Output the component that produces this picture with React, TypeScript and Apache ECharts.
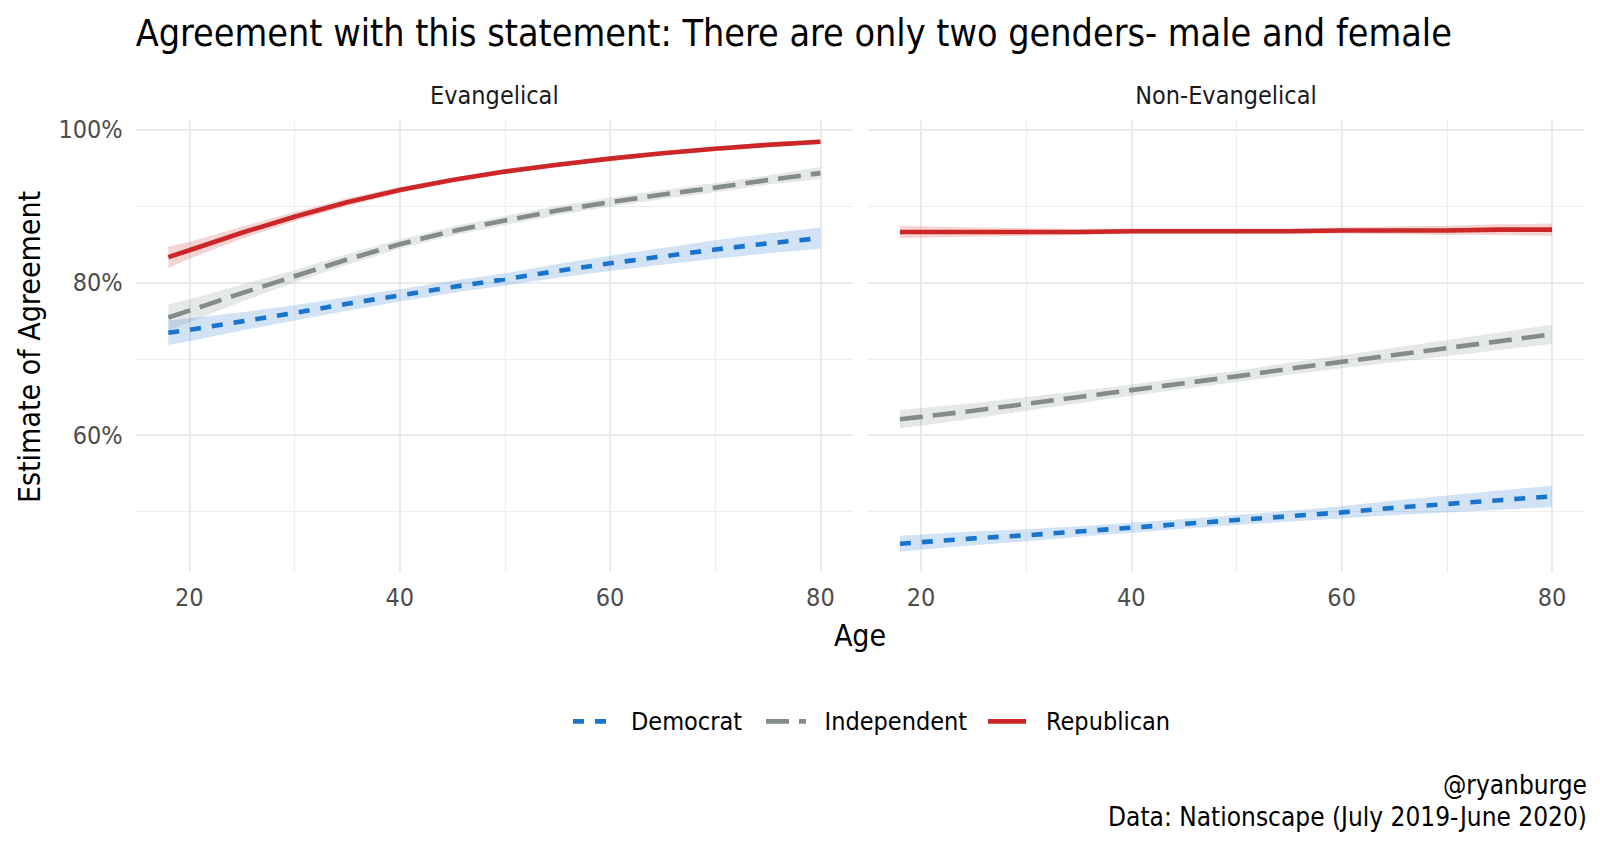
import React, { useEffect, useRef } from "react";
import * as echarts from "echarts";

// ---- data ----
const ages = [18, 20, 25, 30, 35, 40, 45, 50, 55, 60, 65, 70, 75, 80];
const panelNames = ["Evangelical", "Non-Evangelical"];
const partyNames = ["Democrat", "Independent", "Republican"];

// Evangelical
const evDemFit = [73.4, 73.8, 74.9, 76.0, 77.2, 78.3, 79.4, 80.4, 81.5, 82.5, 83.4, 84.3, 85.1, 85.8];
const evDemLo = [71.8, 72.3, 73.7, 75.0, 76.3, 77.5, 78.6, 79.6, 80.6, 81.5, 82.3, 83.1, 83.8, 84.4];
const evDemHi = [75.0, 75.3, 76.1, 77.0, 78.1, 79.1, 80.2, 81.2, 82.4, 83.5, 84.5, 85.5, 86.4, 87.2];

const evIndFit = [75.4, 76.3, 78.6, 80.8, 83.0, 85.0, 86.7, 88.1, 89.4, 90.5, 91.5, 92.4, 93.4, 94.3];
const evIndLo = [73.7, 74.8, 77.5, 80.0, 82.3, 84.4, 86.1, 87.5, 88.8, 89.9, 90.9, 91.8, 92.8, 93.5];
const evIndHi = [77.1, 77.8, 79.7, 81.6, 83.7, 85.6, 87.3, 88.7, 90.0, 91.1, 92.1, 93.0, 94.0, 95.1];

const evRepFit = [83.3, 84.2, 86.5, 88.6, 90.5, 92.1, 93.4, 94.5, 95.4, 96.2, 96.9, 97.5, 98.0, 98.4];
const evRepLo = [81.9, 83.1, 85.7, 88.0, 90.0, 91.7, 93.1, 94.2, 95.1, 95.9, 96.6, 97.2, 97.7, 98.1];
const evRepHi = [84.7, 85.3, 87.3, 89.2, 91.0, 92.5, 93.7, 94.8, 95.7, 96.5, 97.2, 97.8, 98.3, 98.7];

// Non-Evangelical
const neDemFit = [45.8, 46.0, 46.5, 46.9, 47.4, 47.9, 48.4, 48.9, 49.4, 49.9, 50.5, 51.0, 51.5, 52.0];
const neDemLo = [44.75, 45.0, 45.6, 46.1, 46.7, 47.25, 47.75, 48.25, 48.7, 49.1, 49.55, 49.9, 50.25, 50.6];
const neDemHi = [46.85, 47.0, 47.4, 47.7, 48.1, 48.55, 49.05, 49.55, 50.1, 50.7, 51.45, 52.1, 52.75, 53.4];

const neIndFit = [62.1, 62.4, 63.2, 64.1, 65.0, 65.9, 66.8, 67.7, 68.7, 69.6, 70.5, 71.4, 72.3, 73.2];
const neIndLo = [60.9, 61.25, 62.2, 63.2, 64.2, 65.15, 66.05, 66.95, 67.9, 68.75, 69.55, 70.35, 71.15, 71.95];
const neIndHi = [63.3, 63.55, 64.2, 65.0, 65.8, 66.65, 67.55, 68.45, 69.5, 70.45, 71.45, 72.45, 73.45, 74.45];

const neRepFit = [86.6, 86.6, 86.6, 86.6, 86.6, 86.7, 86.7, 86.7, 86.7, 86.8, 86.8, 86.8, 86.9, 86.9];
const neRepLo = [85.8, 85.85, 86.0, 86.1, 86.2, 86.35, 86.35, 86.35, 86.35, 86.4, 86.3, 86.2, 86.2, 86.1];
const neRepHi = [87.4, 87.35, 87.2, 87.1, 87.0, 87.05, 87.05, 87.05, 87.05, 87.2, 87.3, 87.4, 87.6, 87.7];

const xMin = 14.9;
const xMax = 83.1;
const yMin = 42.1;
const yMax = 101.2;

const FONT = "'DejaVu Sans Condensed', 'Liberation Sans Narrow', 'Roboto', sans-serif";

const partyColors = ["#1874CD", "#838B8B", "#CD2626"];
const ribbonColors = ["rgba(24,116,205,0.2)", "rgba(131,139,139,0.2)", "rgba(205,38,38,0.2)"];
const dashes: any[] = [[11, 11], [23, 10], "solid"];

type Group = { fit: number[]; lo: number[]; hi: number[] };
const panelsData: Group[][] = [
  [
    { fit: evDemFit, lo: evDemLo, hi: evDemHi },
    { fit: evIndFit, lo: evIndLo, hi: evIndHi },
    { fit: evRepFit, lo: evRepLo, hi: evRepHi },
  ],
  [
    { fit: neDemFit, lo: neDemLo, hi: neDemHi },
    { fit: neIndFit, lo: neIndLo, hi: neIndHi },
    { fit: neRepFit, lo: neRepLo, hi: neRepHi },
  ],
];

const GRID_TOP = 120.4;
const GRID_H = 451.6;
const GRID_LEFTS = [135.7, 867.3];
const GRID_W = 717.3;

function buildOption() {
  const grid = GRID_LEFTS.map((l) => ({ left: l, top: GRID_TOP, width: GRID_W, height: GRID_H, containLabel: false }));

  const xAxis: any[] = [];
  const yAxis: any[] = [];
  [0, 1].forEach((g) => {
    // minor grid lines (every 10)
    xAxis.push({
      type: "value", gridIndex: g, min: xMin, max: xMax, splitNumber: 7, position: "bottom",
      axisLine: { show: false }, axisTick: { show: false }, axisLabel: { show: false },
      splitLine: { show: true, showMinLine: false, showMaxLine: false, lineStyle: { color: "#ededed", width: 1.1 } },
    });
    // major grid lines + labels (every 20)
    xAxis.push({
      type: "value", gridIndex: g, min: xMin, max: xMax, splitNumber: 3, position: "bottom",
      axisLine: { show: false }, axisTick: { show: false },
      axisLabel: {
        show: true, showMinLabel: false, showMaxLabel: false, margin: 13,
        color: "#4d4d4d", fontSize: 25, fontFamily: FONT,
        formatter: (v: number) => (Math.abs(v % 20) < 1e-6 ? String(v) : ""),
      },
      splitLine: { show: true, showMinLine: false, showMaxLine: false, lineStyle: { color: "#ebebeb", width: 2 } },
    });
    yAxis.push({
      type: "value", gridIndex: g, min: yMin, max: yMax, splitNumber: 6, position: "left",
      axisLine: { show: false }, axisTick: { show: false }, axisLabel: { show: false },
      splitLine: { show: true, showMinLine: false, showMaxLine: false, lineStyle: { color: "#ededed", width: 1.1 } },
    });
    yAxis.push({
      type: "value", gridIndex: g, min: yMin, max: yMax, splitNumber: 3, position: "left",
      axisLine: { show: false }, axisTick: { show: false },
      axisLabel: {
        show: g === 0, showMinLabel: false, showMaxLabel: false, margin: 13,
        color: "#4d4d4d", fontSize: 25, fontFamily: FONT,
        formatter: (v: number) => (Math.abs(v % 20) < 1e-6 ? v + "%" : ""),
      },
      splitLine: { show: true, showMinLine: false, showMaxLine: false, lineStyle: { color: "#ebebeb", width: 2 } },
    });
  });

  const series: any[] = [];
  panelsData.forEach((groups, p) => {
    const xi = p * 2 + 1;
    const yi = p * 2 + 1;
    groups.forEach((gr, k) => {
      series.push({
        type: "custom", name: partyNames[k] + " ribbon", xAxisIndex: xi, yAxisIndex: yi, silent: true,
        data: ages.map((a, i) => [a, gr.lo[i], gr.hi[i]]),
        encode: { x: 0, y: [1, 2] },
        z: 1,
        renderItem: (params: any, api: any) => {
          if (params.dataIndex !== 0) return null;
          const lower = ages.map((a, i) => api.coord([a, gr.lo[i]]));
          const upper = ages.map((a, i) => api.coord([a, gr.hi[i]])).reverse();
          return {
            type: "polygon",
            shape: { points: lower.concat(upper) },
            style: { fill: ribbonColors[k], stroke: null },
          };
        },
      });
    });
    groups.forEach((gr, k) => {
      series.push({
        type: "line", name: partyNames[k], xAxisIndex: xi, yAxisIndex: yi,
        data: ages.map((a, i) => [a, gr.fit[i]]), symbol: "none",
        lineStyle: { color: partyColors[k], width: 4.6, type: dashes[k], cap: "butt" }, z: 3,
      });
    });
  });

  const legendY = 721.4;
  const keyX = [[573, 608], [766, 806], [988, 1026]];
  const labelX = [631, 824.5, 1046];
  const graphic: any[] = [];
  panelNames.forEach((n, i) => {
    graphic.push({
      type: "text", x: GRID_LEFTS[i] + GRID_W / 2, y: 95,
      style: { text: n, fill: "#1a1a1a", font: `25px ${FONT}`, textAlign: "center", textVerticalAlign: "middle" },
    });
  });
  graphic.push({
    type: "text", x: 860, y: 635,
    style: { text: "Age", fill: "#000", font: `30px ${FONT}`, textAlign: "center", textVerticalAlign: "middle" },
  });
  graphic.push({
    type: "text", x: 29, y: 347, rotation: Math.PI / 2,
    style: { text: "Estimate of Agreement", fill: "#000", font: `30px ${FONT}`, textAlign: "center", textVerticalAlign: "middle" },
  });
  partyNames.forEach((n, k) => {
    graphic.push({
      type: "line", shape: { x1: keyX[k][0], y1: legendY, x2: keyX[k][1], y2: legendY },
      style: { stroke: partyColors[k], lineWidth: 4.6, lineDash: k === 2 ? null : dashes[k], lineCap: "butt" },
    });
    graphic.push({
      type: "text", x: labelX[k], y: legendY,
      style: { text: n, fill: "#000", font: `25px ${FONT}`, textAlign: "left", textVerticalAlign: "middle" },
    });
  });
  graphic.push({
    type: "text", x: 1587, y: 785,
    style: { text: "@ryanburge", fill: "#000", font: `26px ${FONT}`, textAlign: "right", textVerticalAlign: "middle" },
  });
  graphic.push({
    type: "text", x: 1587, y: 817,
    style: { text: "Data: Nationscape (July 2019-June 2020)", fill: "#000", font: `26px ${FONT}`, textAlign: "right", textVerticalAlign: "middle" },
  });
  graphic.push({
    type: "text", x: 135.7, y: 33,
    style: {
      text: "Agreement with this statement: There are only two genders- male and female",
      fill: "#000", font: `37.4px ${FONT}`, textAlign: "left", textVerticalAlign: "middle",
    },
  });

  return {
    animation: false,
    backgroundColor: "#ffffff",
    grid,
    xAxis,
    yAxis,
    series,
    graphic,
  };
}

export default function App() {
  const ref = useRef<HTMLDivElement>(null);
  useEffect(() => {
    document.body.style.margin = "0";
    if (!ref.current) return;
    const chart = echarts.init(ref.current, undefined, { renderer: "svg", width: 1600, height: 847 });
    chart.setOption(buildOption() as any);
    return () => chart.dispose();
  }, []);
  return <div ref={ref} style={{ position: "absolute", left: 0, top: 0, width: 1600, height: 847 }} />;
}
